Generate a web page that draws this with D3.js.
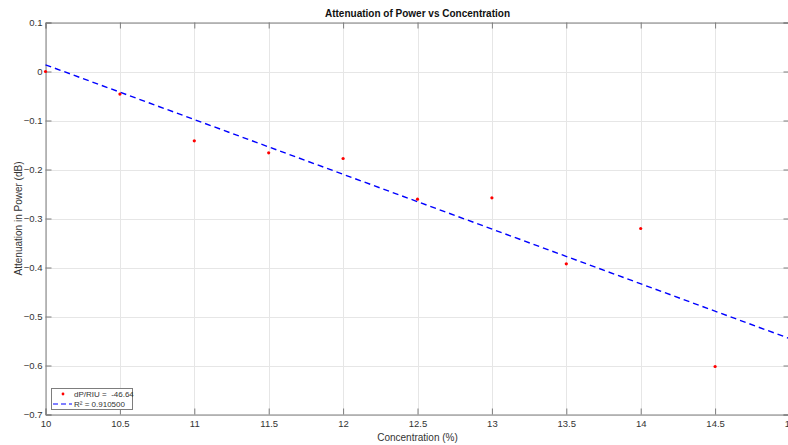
<!DOCTYPE html>
<html><head><meta charset="utf-8">
<script src="https://cdn.jsdelivr.net/npm/d3@7"></script>
<style>html,body{margin:0;padding:0;background:#fff;overflow:hidden}svg{display:block}text{font-family:"Liberation Sans",Arial,sans-serif}</style>
</head><body><svg id="c" width="788" height="445"></svg>
<script>
const concentration = [10, 10.5, 11, 11.5, 12, 12.5, 13, 13.5, 14, 14.5];
const attenuation = [0, -0.046, -0.1415, -0.166, -0.1776, -0.2606, -0.2578, -0.3925, -0.3204, -0.602];
const fitX = [10, 15];
const fitY = [0.0137, -0.545];
const xTicks = [10, 10.5, 11, 11.5, 12, 12.5, 13, 13.5, 14, 14.5, 15];
const yTicks = [0.1, 0, -0.1, -0.2, -0.3, -0.4, -0.5, -0.6, -0.7];
const legendLabels = ["dP/RIU =  -46.64", "R\u00B2 = 0.910500"];
const title = "Attenuation of Power vs Concentration";
const xLabel = "Concentration (%)";
const yLabel = "Attenuation in Power (dB)";

const L = 45.5, R = 789.5, T = 22.5, B = 414.5;
const svg = d3.select("#c");
const x = d3.scaleLinear().domain([10, 15]).range([L, R]);
const y = d3.scaleLinear().domain([-0.7, 0.1]).range([B, T]);
const axisCol = "#7d7d7d", gridCol = "#e6e6e6", textCol = "#333";

// grid
svg.append("g").selectAll("line").data(xTicks).join("line")
  .attr("x1", d => Math.round(x(d)) + 0.5).attr("x2", d => Math.round(x(d)) + 0.5)
  .attr("y1", T).attr("y2", B).attr("stroke", gridCol).attr("stroke-width", 1);
svg.append("g").selectAll("line").data(yTicks).join("line")
  .attr("y1", d => Math.round(y(d)) + 0.5).attr("y2", d => Math.round(y(d)) + 0.5)
  .attr("x1", L).attr("x2", R).attr("stroke", gridCol).attr("stroke-width", 1);

// axes
const xAxisB = d3.axisBottom(x).tickValues(xTicks).tickSize(-6).tickPadding(6).tickFormat(d3.format("~g"));
const xAxisT = d3.axisTop(x).tickValues(xTicks).tickSize(-6).tickFormat("");
const yAxisL = d3.axisLeft(y).tickValues(yTicks).tickSize(-6).tickPadding(3).tickFormat(d3.format("~g"));
const yAxisR = d3.axisRight(y).tickValues(yTicks).tickSize(-6).tickFormat("");
function style(g) {
  g.selectAll("path").attr("stroke", axisCol).attr("stroke-width", 1);
  g.selectAll("line").attr("stroke", axisCol);
  g.selectAll("text").attr("fill", textCol).attr("font-size", "9.5px").attr("font-family", '"Liberation Sans",Arial,sans-serif');
}
svg.append("g").attr("transform", `translate(0,${B})`).call(xAxisB).call(style);
svg.append("g").attr("transform", `translate(0,${T})`).call(xAxisT).call(style);
svg.append("g").attr("transform", `translate(${L},0)`).call(yAxisL).call(style);
svg.append("g").attr("transform", `translate(${R},0)`).call(yAxisR).call(style);

// fit line
const line = d3.line().x(d => x(d[0])).y(d => y(d[1]));
svg.append("path").datum(fitX.map((v, i) => [v, fitY[i]]))
  .attr("d", line).attr("fill", "none").attr("stroke", "#0000ff")
  .attr("stroke-width", 1.4).attr("stroke-dasharray", "6,4");

// points
svg.append("g").selectAll("circle").data(concentration).join("circle")
  .attr("cx", d => x(d)).attr("cy", (d, i) => y(attenuation[i])).attr("r", 1.6).attr("fill", "#ff0000");

// title & labels
svg.append("text").attr("x", (L + R) / 2).attr("y", 17).attr("text-anchor", "middle")
  .attr("font-size", "10px").attr("font-weight", "bold").attr("fill", "#111").text(title);
svg.append("text").attr("x", (L + R) / 2).attr("y", 441).attr("text-anchor", "middle")
  .attr("font-size", "10px").attr("fill", textCol).text(xLabel);
svg.append("text").attr("transform", `translate(22,${(T + B) / 2}) rotate(-90)`).attr("text-anchor", "middle")
  .attr("font-size", "10px").attr("fill", textCol).text(yLabel);

// legend
const lg = svg.append("g");
lg.append("rect").attr("x", 51.5).attr("y", 388.5).attr("width", 81).attr("height", 21)
  .attr("fill", "#fff").attr("stroke", axisCol).attr("stroke-width", 1);
lg.append("circle").attr("cx", 63).attr("cy", 394).attr("r", 1.4).attr("fill", "#ff0000");
lg.append("line").attr("x1", 53).attr("x2", 72).attr("y1", 404).attr("y2", 404)
  .attr("stroke", "#0000ff").attr("stroke-width", 1.2).attr("stroke-dasharray", "5,3");
lg.append("text").attr("x", 74).attr("y", 397).attr("font-size", "8px").attr("fill", textCol)
  .attr("xml:space", "preserve").style("white-space", "pre").text(legendLabels[0]);
lg.append("text").attr("x", 74).attr("y", 407).attr("font-size", "8px").attr("fill", textCol).text(legendLabels[1]);
</script></body></html>
